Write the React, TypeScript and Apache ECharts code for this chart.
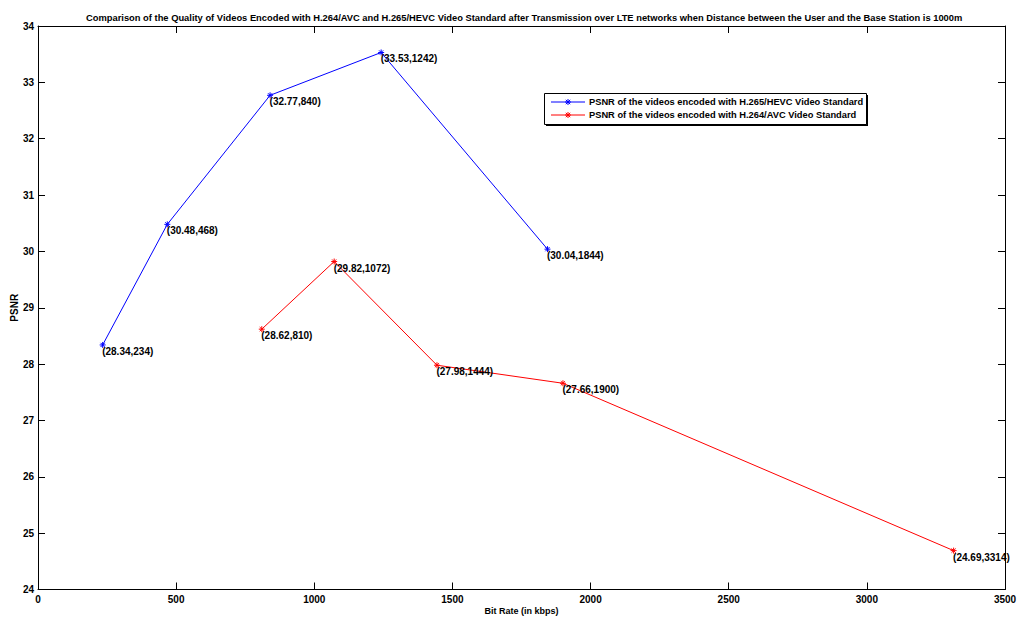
import React, { useEffect, useRef } from "react";
import * as echarts from "echarts";

const hevcBitRate = [234, 468, 840, 1242, 1844];
const hevcPsnr = [28.34, 30.48, 32.77, 33.53, 30.04];
const avcBitRate = [810, 1072, 1444, 1900, 3314];
const avcPsnr = [28.62, 29.82, 27.98, 27.66, 24.69];
const xTicks = [0, 500, 1000, 1500, 2000, 2500, 3000, 3500];
const yTicks = [24, 25, 26, 27, 28, 29, 30, 31, 32, 33, 34];

const titleText =
  "Comparison of the Quality of Videos Encoded with H.264/AVC and H.265/HEVC Video Standard after Transmission over LTE networks when Distance between the User and the Base Station is 1000m";
const hevcName = "PSNR of the videos encoded with H.265/HEVC Video Standard";
const avcName = "PSNR of the videos encoded with H.264/AVC Video Standard";

const FONT = "Liberation Sans, Arial, sans-serif";
const STAR = "path://M0,-5L0,5M-5,0L5,0M-3.5,-3.5L3.5,3.5M-3.5,3.5L3.5,-3.5";

function makeSeries(name: string, xs: number[], ys: number[], color: string) {
  return {
    name,
    type: "line",
    data: xs.map((x, i) => [x, ys[i]]),
    symbol: STAR,
    symbolSize: 6,
    showAllSymbol: true,
    lineStyle: { color, width: 1 },
    itemStyle: { color, borderColor: color, borderWidth: 1 },
    label: {
      show: true,
      position: [3, 5],
      align: "left",
      verticalAlign: "top",
      color: "#000",
      fontFamily: FONT,
      fontWeight: "bold",
      fontSize: 10,
      formatter: (p: any) => `(${p.value[1].toFixed(2)},${p.value[0]})`,
    },
    emphasis: { disabled: true },
  };
}

function starGraphic(cx: number, cy: number, color: string) {
  const r = 3;
  const d = 2.2;
  const segs = [
    [cx, cy - r, cx, cy + r],
    [cx - r, cy, cx + r, cy],
    [cx - d, cy - d, cx + d, cy + d],
    [cx - d, cy + d, cx + d, cy - d],
  ];
  return segs.map((s) => ({
    type: "line",
    shape: { x1: s[0], y1: s[1], x2: s[2], y2: s[3] },
    style: { stroke: color, lineWidth: 1 },
    silent: true,
  }));
}

function legendRow(y: number, color: string, text: string) {
  return [
    {
      type: "line",
      shape: { x1: 551, y1: y, x2: 585, y2: y },
      style: { stroke: color, lineWidth: 1 },
      silent: true,
    },
    ...starGraphic(568, y, color),
    {
      type: "text",
      x: 589,
      y,
      style: {
        text,
        fill: "#000",
        font: `bold 9.3px ${FONT}`,
        textVerticalAlign: "middle",
        verticalAlign: "middle",
      },
      silent: true,
    },
  ];
}

export default function App() {
  const ref = useRef<HTMLDivElement>(null);
  useEffect(() => {
    if (!ref.current) return;
    const chart = echarts.init(ref.current, undefined, { renderer: "svg" });
    const axisLine = { show: true, onZero: false, lineStyle: { color: "#000", width: 1 } };
    const tick = { show: true, inside: true, length: 7, lineStyle: { color: "#000" } };
    const lbl = { color: "#000", fontFamily: FONT, fontWeight: "bold", fontSize: 10 };
    chart.setOption({
      animation: false,
      backgroundColor: "#fff",
      title: {
        text: titleText,
        left: 81,
        top: 8,
        textStyle: { color: "#000", fontFamily: FONT, fontWeight: "bold", fontSize: 9.35 },
      },
      grid: {
        left: 38,
        right: 12,
        top: 26,
        bottom: 28.5,
        containLabel: false,
        outerBoundsMode: "none",
      },
      xAxis: [
        {
          type: "value",
          min: 0,
          max: 3500,
          interval: 500,
          name: "Bit Rate (in kbps)",
          nameLocation: "middle",
          nameGap: 17,
          nameMoveOverlap: false,
          nameTextStyle: { ...lbl, fontSize: 9 },
          axisLine,
          axisTick: tick,
          axisLabel: { ...lbl, margin: 5, formatter: (v: number) => (xTicks.includes(v) ? String(v) : "") },
          splitLine: { show: false },
        },
        {
          type: "value",
          position: "top",
          min: 0,
          max: 3500,
          interval: 500,
          axisLine,
          axisTick: tick,
          axisLabel: { show: false },
          splitLine: { show: false },
        },
      ],
      yAxis: [
        {
          type: "value",
          min: 24,
          max: 34,
          interval: 1,
          name: "PSNR",
          nameLocation: "middle",
          nameGap: 19,
          nameMoveOverlap: false,
          nameTextStyle: lbl,
          axisLine,
          axisTick: tick,
          axisLabel: { ...lbl, margin: 4, formatter: (v: number) => (yTicks.includes(v) ? String(v) : "") },
          splitLine: { show: false },
        },
        {
          type: "value",
          position: "right",
          min: 24,
          max: 34,
          interval: 1,
          axisLine,
          axisTick: tick,
          axisLabel: { show: false },
          splitLine: { show: false },
        },
      ],
      graphic: [
        {
          type: "rect",
          shape: { x: 546, y: 95, width: 322, height: 31 },
          style: { fill: "#000" },
          silent: true,
          z: 100,
        },
        {
          type: "rect",
          shape: { x: 544.5, y: 93.5, width: 322, height: 31 },
          style: { fill: "#fff", stroke: "#000", lineWidth: 1 },
          silent: true,
          z: 101,
        },
        ...[...legendRow(102, "#0000ff", hevcName), ...legendRow(115, "#ff0000", avcName)].map((g: any) => ({
          ...g,
          z: 102,
        })),
      ],
      series: [
        makeSeries(hevcName, hevcBitRate, hevcPsnr, "#0000ff"),
        makeSeries(avcName, avcBitRate, avcPsnr, "#ff0000"),
      ],
    });
    return () => chart.dispose();
  }, []);
  return (
    <div
      ref={ref}
      style={{ position: "absolute", left: 0, top: 0, width: 1017, height: 618 }}
    />
  );
}
